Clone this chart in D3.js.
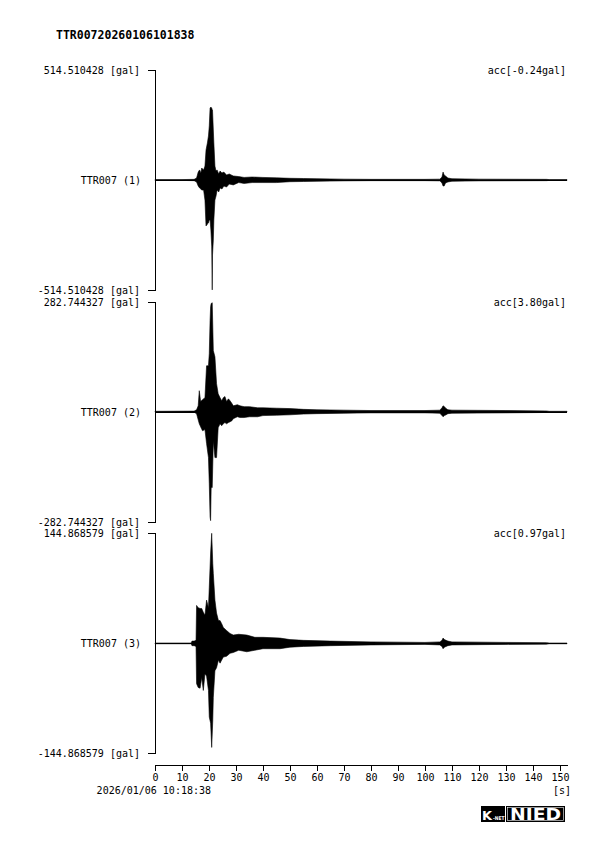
<!DOCTYPE html>
<html>
<head>
<meta charset="utf-8">
<script src="https://cdn.jsdelivr.net/npm/d3@7"></script>
<style>
  body { margin: 0; background: #fff; }
  svg text { font-family: "DejaVu Sans Mono", "Liberation Mono", monospace; fill: #000; }
</style>
</head>
<body>
<svg id="chart" width="595" height="841"></svg>
<script>
const title = "TTR00720260106101838";
const startTime = "2026/01/06 10:18:38";
const channels = ["TTR007 (1)", "TTR007 (2)", "TTR007 (3)"];
const maxAcc = [514.510428, 282.744327, 144.868579];
const offsets = ["-0.24", "3.80", "0.97"];
const timeTicks = [0, 10, 20, 30, 40, 50, 60, 70, 80, 90, 100, 110, 120, 130, 140, 150];
const duration = 152.6;

// envelope: [time s, max gal, min gal]
const env1 = [
  [0, 2, -2], [10, 2, -2], [14.5, 3, -3], [15.4, 9, -9], [16.0, 37, -28], [16.5, 47, -37],
  [17.0, 33, -42], [17.3, 56, -47], [18.0, 47, -47], [18.5, 65, -94], [18.9, 140, -215],
  [19.4, 173, -206], [19.8, 206, -201], [20.1, 253, -187], [20.4, 337, -187], [20.7, 341, -234],
  [21.0, 337, -309], [21.2, 327, -514], [21.3, 327, -351], [21.6, 234, -281], [21.8, 173, -187],
  [22.2, 65, -94], [22.6, 42, -75], [23.0, 47, -47], [23.6, 28, -56], [24.1, 42, -37],
  [24.8, 33, -42], [25.5, 37, -28], [26.5, 23, -33], [27.5, 28, -19], [29, 19, -23],
  [31, 16, -12], [33, 12, -16], [36, 14, -12], [40, 12, -12], [45, 10, -12], [50, 8, -8],
  [55, 7, -7], [60, 6, -6], [70, 4, -4], [80, 3, -3], [100, 3, -3], [105.5, 4, -4],
  [106.3, 14, -14], [106.7, 37, -28], [107.1, 23, -28], [107.6, 19, -14], [108.5, 9, -9],
  [110, 6, -6], [120, 4, -4], [145, 3, -3], [146, 2, -2], [152.6, 2, -2]
];
const env2 = [
  [0, 1, -1], [14.5, 1.5, -1.5], [15.4, 5, -5], [16.0, 15, -21], [16.4, 54, -31], [16.9, 26, -39],
  [17.6, 31, -49], [18.5, 36, -46], [19.1, 118, -82], [19.8, 118, -118], [20.1, 149, -185],
  [20.4, 234, -270], [20.6, 270, -280], [20.8, 278, -195], [21.2, 280, -195], [21.6, 157, -75],
  [22.2, 141, -118], [22.8, 72, -118], [23.4, 46, -41], [24.1, 36, -31], [24.7, 28, -36],
  [25.3, 36, -31], [25.9, 39, -28], [26.5, 26, -31], [27.2, 33, -28], [27.8, 28, -26],
  [28.5, 21, -23], [29.0, 15, -18], [30.5, 18, -13], [31.5, 15, -15], [33, 13, -15],
  [35, 13, -13], [38, 10, -13], [40, 10, -10], [45, 9, -9], [50, 8, -8], [55, 6, -6],
  [60, 5, -5], [70, 4, -4], [80, 3, -3], [100, 3, -3], [105.5, 4, -4], [106.3, 10, -10],
  [106.7, 15, -13], [107.2, 13, -10], [107.8, 8, -8], [108.5, 5, -5], [110, 4, -4],
  [130, 3, -3], [145, 2, -2], [146, 1, -1], [152.6, 1, -1]
];
const env3 = [
  [0, 0.5, -0.5], [13.4, 0.5, -0.5], [13.7, 3, -3], [14.5, 3, -3], [15.2, 4, -4], [15.4, 50, -53],
  [16.0, 47, -58], [16.7, 46, -59], [17.3, 46, -45], [17.9, 41, -62], [18.5, 37, -40],
  [19.1, 57, -43], [19.8, 47, -62], [20.1, 74, -97], [20.6, 119, -105], [21.0, 145, -137],
  [21.4, 105, -101], [21.6, 92, -71], [22.2, 57, -36], [22.8, 40, -32], [23.5, 30, -22],
  [24.1, 30, -26], [24.7, 26, -22], [25.3, 21, -18], [26.5, 17, -17], [27.8, 13, -13],
  [29.0, 11, -12], [31, 12, -9], [34, 11, -11], [37, 8, -9], [40, 8, -7], [46.3, 7, -7],
  [50, 5, -5], [55, 4, -4], [65, 3, -3], [80, 2, -2], [100, 1.3, -1.3], [105.5, 2, -2],
  [106.3, 4, -4], [106.7, 7, -7], [107.2, 5, -5], [107.8, 4, -4], [108.5, 3, -3], [110, 2, -2],
  [130, 1.3, -1.3], [145, 1, -1], [146, 0.5, -0.5], [152.6, 0.5, -0.5]
];
const envelopes = [env1, env2, env3];

const svg = d3.select('#chart');
const left = 155, right = 567;
const panelTop = 70, panelH = 220, panelStep = 231.7;

const x = d3.scaleLinear().domain([0, duration]).range([left, right]);

svg.append('text')
  .attr('x', 56).attr('y', 39)
  .style('font-size', '11.5px').style('font-weight', 'bold')
  .text(title);

channels.forEach((name, i) => {
  const top = panelTop + i * panelStep;
  const y = d3.scaleLinear().domain([-maxAcc[i], maxAcc[i]]).range([top + panelH, top]);
  const g = svg.append('g');

  g.append('g')
    .attr('transform', `translate(${left},0)`)
    .call(d3.axisLeft(y).tickValues([]).tickSizeOuter(7))
    .call(a => a.select('.domain').attr('stroke', '#000').attr('shape-rendering', 'crispEdges'));

  g.append('text').attr('x', 140).attr('y', top + 4).attr('text-anchor', 'end')
    .style('font-size', '10px').text(maxAcc[i].toFixed(6) + ' [gal]');
  g.append('text').attr('x', 140).attr('y', top + panelH + 4).attr('text-anchor', 'end')
    .style('font-size', '10px').text('-' + maxAcc[i].toFixed(6) + ' [gal]');
  g.append('text').attr('x', 566).attr('y', top + 4).attr('text-anchor', 'end')
    .style('font-size', '10px').text('acc[' + offsets[i] + 'gal]');
  g.append('text').attr('x', 141).attr('y', y(0) + 4).attr('text-anchor', 'end')
    .style('font-size', '10px').text(name);

  g.append('line')
    .attr('x1', left).attr('x2', right)
    .attr('y1', Math.round(y(0)) + 0.5).attr('y2', Math.round(y(0)) + 0.5)
    .attr('stroke', '#000');

  const area = d3.area()
    .x(d => x(d[0]))
    .y0(d => y(d[2]))
    .y1(d => y(d[1]));

  g.append('path')
    .datum(envelopes[i])
    .attr('d', area)
    .attr('fill', '#000')
    .attr('stroke', '#000')
    .attr('stroke-width', 0.6);
});

const xAxis = svg.append('g')
  .attr('transform', 'translate(0,764.5)')
  .call(d3.axisBottom(x).tickValues(timeTicks).tickSize(6).tickSizeOuter(0).tickPadding(3));
xAxis.selectAll('text').style('font-size', '10px').style('font-family', '"DejaVu Sans Mono", monospace');
xAxis.selectAll('line, path').attr('stroke', '#000').attr('shape-rendering', 'crispEdges');

svg.append('text').attr('x', 211).attr('y', 794).attr('text-anchor', 'end')
  .style('font-size', '10px').text(startTime);
svg.append('text').attr('x', 571).attr('y', 794).attr('text-anchor', 'end')
  .style('font-size', '10px').text('[s]');

// logo
const logo = svg.append('g').attr('transform', 'translate(481,806)');
logo.append('rect').attr('width', 84).attr('height', 16).attr('fill', '#000');
logo.append('line').attr('x1', 24.5).attr('x2', 24.5).attr('y1', 0).attr('y2', 16)
  .attr('stroke', '#fff');
logo.append('rect').attr('x', 26.5).attr('y', 1.5).attr('width', 56).attr('height', 13)
  .attr('fill', 'none').attr('stroke', '#fff').attr('stroke-width', 0.6);
logo.append('text').attr('x', 1).attr('y', 14)
  .style('font-family', '"DejaVu Sans", sans-serif').style('font-weight', 'bold')
  .style('font-size', '13px').style('fill', '#fff')
  .attr('textLength', 10).attr('lengthAdjust', 'spacingAndGlyphs').text('K');
logo.append('text').attr('x', 12).attr('y', 14)
  .style('font-family', '"DejaVu Sans", sans-serif').style('font-weight', 'bold')
  .style('font-size', '5px').style('fill', '#fff')
  .attr('textLength', 11.5).attr('lengthAdjust', 'spacingAndGlyphs').text('-NET');
logo.append('text').attr('x', 29).attr('y', 14)
  .style('font-family', '"DejaVu Sans", sans-serif').style('font-weight', 'bold')
  .style('font-size', '16px').style('fill', '#fff')
  .attr('textLength', 51).attr('lengthAdjust', 'spacingAndGlyphs').text('NIED');
</script>
</body>
</html>
